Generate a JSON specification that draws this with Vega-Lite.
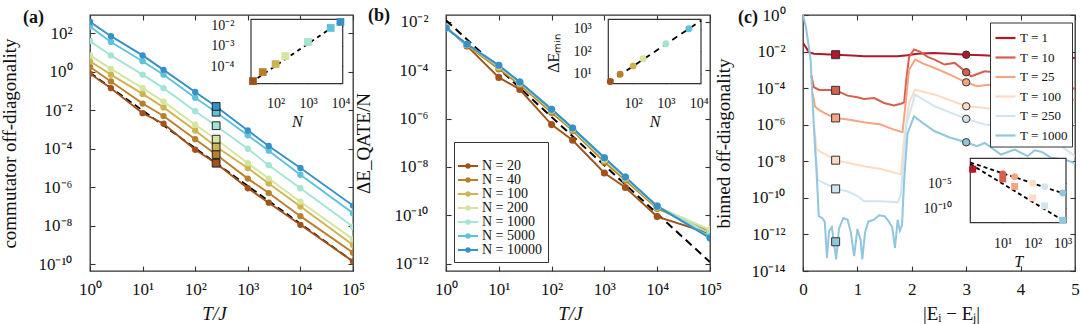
{
"$schema": "https://vega.github.io/schema/vega-lite/v6.json",
"padding": {"left": 0, "top": 5, "right": 0, "bottom": 0},
"bounds": "flush",
"spacing": 93,
"config": {
  "font": "Liberation Serif",
  "view": {"stroke": "#333", "strokeWidth": 1.3},
  "axis": {"grid": false, "domain": false, "tickColor": "#333", "tickWidth": 1.1, "tickSize": -5, "labelFont": "Liberation Serif", "labelFontSize": 17, "labelColor": "#111", "titleFont": "Liberation Serif", "titleFontSize": 19, "titleFontWeight": "normal", "titleColor": "#111"},
  "legend": {"labelFont": "Liberation Serif", "labelColor": "#111", "titleFont": "Liberation Serif"},
  "title": {"font": "Liberation Serif", "color": "#111"}
},
"resolve": {"scale": {"color": "independent"}, "legend": {"color": "independent"}},
"datasets": {
  "a_ref": [{"T": 1, "v": 0.891}, {"T": 100000, "v": 1.41e-10}],
  "a_fit": [{"N": 17.4, "v": 1.52e-5}, {"N": 11750, "v": 0.019}],
  "a_lines": [
    {"N":20,"T":1,"v":0.794},{"N":20,"T":2.5,"v":0.141},{"N":20,"T":10,"v":0.00708},{"N":20,"T":25,"v":0.002},{"N":20,"T":100,"v":8.91e-5},{"N":20,"T":250,"v":1.78e-5},{"N":20,"T":1000,"v":8.91e-7},{"N":20,"T":2500,"v":1.58e-7},{"N":20,"T":10000,"v":1.12e-8},{"N":20,"T":100000,"v":1.41e-10},
    {"N":40,"T":1,"v":1.78},{"N":40,"T":2.5,"v":0.316},{"N":40,"T":10,"v":0.0224},{"N":40,"T":25,"v":0.00501},{"N":40,"T":100,"v":3.16e-4},{"N":40,"T":250,"v":5.01e-5},{"N":40,"T":1000,"v":2.82e-6},{"N":40,"T":2500,"v":5.01e-7},{"N":40,"T":10000,"v":3.16e-8},{"N":40,"T":100000,"v":3.98e-10},
    {"N":100,"T":1,"v":3.55},{"N":100,"T":2.5,"v":0.708},{"N":100,"T":10,"v":0.0708},{"N":100,"T":25,"v":0.0141},{"N":100,"T":100,"v":8.91e-4},{"N":100,"T":250,"v":1.26e-4},{"N":100,"T":1000,"v":1e-5},{"N":100,"T":2500,"v":1.58e-6},{"N":100,"T":10000,"v":1e-7},{"N":100,"T":100000,"v":1e-9},
    {"N":200,"T":1,"v":7.08},{"N":200,"T":2.5,"v":1.41},{"N":200,"T":10,"v":0.141},{"N":200,"T":25,"v":0.0282},{"N":200,"T":100,"v":1.78e-3},{"N":200,"T":250,"v":3.16e-4},{"N":200,"T":1000,"v":1.78e-5},{"N":200,"T":2500,"v":2.82e-6},{"N":200,"T":10000,"v":1.78e-7},{"N":200,"T":100000,"v":2e-9},
    {"N":1000,"T":1,"v":39.8},{"N":1000,"T":2.5,"v":7.08},{"N":1000,"T":10,"v":0.708},{"N":1000,"T":25,"v":0.141},{"N":1000,"T":100,"v":8.91e-3},{"N":1000,"T":250,"v":1.58e-3},{"N":1000,"T":1000,"v":1e-4},{"N":1000,"T":2500,"v":1.41e-5},{"N":1000,"T":10000,"v":8.91e-7},{"N":1000,"T":100000,"v":8.91e-9},
    {"N":5000,"T":1,"v":224},{"N":5000,"T":2.5,"v":35.5},{"N":5000,"T":10,"v":3.55},{"N":5000,"T":25,"v":0.708},{"N":5000,"T":100,"v":0.0447},{"N":5000,"T":250,"v":7.94e-3},{"N":5000,"T":1000,"v":5.01e-4},{"N":5000,"T":2500,"v":7.94e-5},{"N":5000,"T":10000,"v":4.47e-6},{"N":5000,"T":100000,"v":4.47e-8},
    {"N":10000,"T":1,"v":398},{"N":10000,"T":2.5,"v":70.8},{"N":10000,"T":10,"v":7.08},{"N":10000,"T":25,"v":1.26},{"N":10000,"T":100,"v":0.0891},{"N":10000,"T":250,"v":0.0158},{"N":10000,"T":1000,"v":8.91e-4},{"N":10000,"T":2500,"v":1.41e-4},{"N":10000,"T":10000,"v":1e-5},{"N":10000,"T":100000,"v":1.12e-7}
  ],
  "b_ref": [{"T": 1, "v": 0.01148}, {"T": 100000, "v": 1.17e-12}],
  "b_fit": [{"N": 17.4, "v": 3.98}, {"N": 11750, "v": 2290}],
  "b_in": [{"N":20,"v":4.57},{"N":40,"v":9.55},{"N":100,"v":22.4},{"N":200,"v":46.8},{"N":1000,"v":214},{"N":5000,"v":1000}],
  "b_lines": [
    {"N":20,"T":1,"v":6.03e-3},{"N":20,"T":2.5,"v":1e-3},{"N":20,"T":10,"v":5.01e-5},{"N":20,"T":25,"v":1.58e-5},{"N":20,"T":100,"v":5.62e-7},{"N":20,"T":250,"v":1.26e-7},{"N":20,"T":1000,"v":5.62e-9},{"N":20,"T":2500,"v":1.41e-9},{"N":20,"T":10000,"v":8.91e-11},{"N":20,"T":100000,"v":1.78e-11},
    {"N":40,"T":1,"v":6.03e-3},{"N":40,"T":2.5,"v":1.07e-3},{"N":40,"T":10,"v":1.12e-4},{"N":40,"T":25,"v":2.51e-5},{"N":40,"T":100,"v":1.78e-6},{"N":40,"T":250,"v":3.16e-7},{"N":40,"T":1000,"v":1.58e-8},{"N":40,"T":2500,"v":2.82e-9},{"N":40,"T":10000,"v":1.91e-10},{"N":40,"T":100000,"v":2.09e-11},
    {"N":100,"T":1,"v":5.89e-3},{"N":100,"T":2.5,"v":1.12e-3},{"N":100,"T":10,"v":1.32e-4},{"N":100,"T":25,"v":2.82e-5},{"N":100,"T":100,"v":2.09e-6},{"N":100,"T":250,"v":3.55e-7},{"N":100,"T":1000,"v":1.91e-8},{"N":100,"T":2500,"v":3.31e-9},{"N":100,"T":10000,"v":2.14e-10},{"N":100,"T":100000,"v":2.4e-11},
    {"N":200,"T":1,"v":5.75e-3},{"N":200,"T":2.5,"v":1.15e-3},{"N":200,"T":10,"v":1.45e-4},{"N":200,"T":25,"v":3.02e-5},{"N":200,"T":100,"v":2.24e-6},{"N":200,"T":250,"v":3.8e-7},{"N":200,"T":1000,"v":2.09e-8},{"N":200,"T":2500,"v":3.47e-9},{"N":200,"T":10000,"v":2.29e-10},{"N":200,"T":100000,"v":2.51e-11},
    {"N":1000,"T":1,"v":5.62e-3},{"N":1000,"T":2.5,"v":1.17e-3},{"N":1000,"T":10,"v":1.51e-4},{"N":1000,"T":25,"v":3.16e-5},{"N":1000,"T":100,"v":2.34e-6},{"N":1000,"T":250,"v":3.98e-7},{"N":1000,"T":1000,"v":2.29e-8},{"N":1000,"T":2500,"v":3.63e-9},{"N":1000,"T":10000,"v":2.34e-10},{"N":1000,"T":100000,"v":1.78e-11},
    {"N":5000,"T":1,"v":5.5e-3},{"N":5000,"T":2.5,"v":1.17e-3},{"N":5000,"T":10,"v":1.58e-4},{"N":5000,"T":25,"v":3.24e-5},{"N":5000,"T":100,"v":2.4e-6},{"N":5000,"T":250,"v":4.07e-7},{"N":5000,"T":1000,"v":2.4e-8},{"N":5000,"T":2500,"v":3.8e-9},{"N":5000,"T":10000,"v":2.4e-10},{"N":5000,"T":100000,"v":1.26e-11},
    {"N":10000,"T":1,"v":5.5e-3},{"N":10000,"T":2.5,"v":1.17e-3},{"N":10000,"T":10,"v":1.58e-4},{"N":10000,"T":25,"v":3.24e-5},{"N":10000,"T":100,"v":2.4e-6},{"N":10000,"T":250,"v":4.07e-7},{"N":10000,"T":1000,"v":2.4e-8},{"N":10000,"T":2500,"v":3.8e-9},{"N":10000,"T":10000,"v":2.4e-10},{"N":10000,"T":100000,"v":1.15e-11}
  ],
  "c_curves": [
    {"T":1,"E":0,"v":2.95e-2},{"T":1,"E":0.05,"v":1.78e-2},{"T":1,"E":0.11,"v":9.12e-3},{"T":1,"E":0.2,"v":7.59e-3},{"T":1,"E":0.4,"v":7.08e-3},{"T":1,"E":0.6,"v":6.76e-3},{"T":1,"E":0.9,"v":6.03e-3},{"T":1,"E":1.12,"v":5.5e-3},{"T":1,"E":1.4,"v":5.5e-3},{"T":1,"E":1.74,"v":5.5e-3},{"T":1,"E":1.92,"v":6.31e-3},{"T":1,"E":2.1,"v":7.59e-3},{"T":1,"E":2.4,"v":8.32e-3},{"T":1,"E":2.7,"v":7.59e-3},{"T":1,"E":3.0,"v":6.76e-3},{"T":1,"E":3.3,"v":6.31e-3},{"T":1,"E":3.64,"v":5.5e-3},{"T":1,"E":4.0,"v":5.25e-3},{"T":1,"E":4.26,"v":5.01e-3},{"T":1,"E":4.6,"v":4.79e-3},{"T":1,"E":5.0,"v":4.47e-3},
    {"T":10,"E":0.15,"v":5.01e-4},{"T":10,"E":0.2,"v":1.12e-4},{"T":10,"E":0.3,"v":7.94e-5},{"T":10,"E":0.45,"v":7.94e-5},{"T":10,"E":0.6,"v":7.59e-5},{"T":10,"E":0.82,"v":3.89e-5},{"T":10,"E":1.0,"v":3.16e-5},{"T":10,"E":1.12,"v":2.57e-5},{"T":10,"E":1.31,"v":2.88e-5},{"T":10,"E":1.49,"v":1.55e-5},{"T":10,"E":1.67,"v":1.12e-5},{"T":10,"E":1.8,"v":1.41e-5},{"T":10,"E":1.86,"v":1.7e-5},{"T":10,"E":1.9,"v":3.16e-4},{"T":10,"E":1.95,"v":5.01e-3},{"T":10,"E":2.04,"v":1.29e-2},{"T":10,"E":2.15,"v":1e-2},{"T":10,"E":2.3,"v":5.01e-3},{"T":10,"E":2.42,"v":3.63e-3},{"T":10,"E":2.6,"v":1.95e-3},{"T":10,"E":2.79,"v":2.4e-3},{"T":10,"E":3.0,"v":7.41e-4},{"T":10,"E":3.09,"v":4.47e-4},{"T":10,"E":3.34,"v":8.32e-4},{"T":10,"E":3.64,"v":6.76e-4},{"T":10,"E":3.95,"v":4.47e-4},{"T":10,"E":4.26,"v":5.5e-4},{"T":10,"E":4.56,"v":1.91e-4},{"T":10,"E":4.8,"v":1.26e-4},{"T":10,"E":5.0,"v":9.12e-5},
    {"T":25,"E":0.18,"v":5.01e-5},{"T":25,"E":0.22,"v":1e-5},{"T":25,"E":0.3,"v":6.31e-6},{"T":25,"E":0.45,"v":3.55e-6},{"T":25,"E":0.6,"v":2.34e-6},{"T":25,"E":0.82,"v":1.91e-6},{"T":25,"E":1.12,"v":1.35e-6},{"T":25,"E":1.43,"v":1.02e-6},{"T":25,"E":1.67,"v":5.37e-7},{"T":25,"E":1.83,"v":3.89e-7},{"T":25,"E":1.88,"v":1e-5},{"T":25,"E":1.95,"v":1e-3},{"T":25,"E":2.06,"v":3.63e-3},{"T":25,"E":2.2,"v":2.24e-3},{"T":25,"E":2.42,"v":1.26e-3},{"T":25,"E":2.7,"v":5.5e-4},{"T":25,"E":3.0,"v":2.09e-4},{"T":25,"E":3.2,"v":1.26e-4},{"T":25,"E":3.4,"v":1.55e-4},{"T":25,"E":3.75,"v":8.32e-5},{"T":25,"E":4.13,"v":1.02e-4},{"T":25,"E":4.5,"v":3.98e-5},{"T":25,"E":5.0,"v":2.24e-5},
    {"T":100,"E":0.2,"v":1e-6},{"T":100,"E":0.25,"v":5.01e-8},{"T":100,"E":0.3,"v":3.55e-8},{"T":100,"E":0.6,"v":1.15e-8},{"T":100,"E":1.12,"v":5.37e-9},{"T":100,"E":1.43,"v":3.8e-9},{"T":100,"E":1.8,"v":1.91e-9},{"T":100,"E":1.85,"v":1e-7},{"T":100,"E":1.95,"v":1.58e-5},{"T":100,"E":2.06,"v":8.32e-5},{"T":100,"E":2.2,"v":6.31e-5},{"T":100,"E":2.42,"v":4.47e-5},{"T":100,"E":3.0,"v":1.02e-5},{"T":100,"E":3.64,"v":6.76e-6},{"T":100,"E":4.26,"v":2.88e-6},{"T":100,"E":5.0,"v":1.02e-6},
    {"T":250,"E":0.22,"v":1e-7},{"T":250,"E":0.27,"v":1e-9},{"T":250,"E":0.35,"v":7.24e-10},{"T":250,"E":0.6,"v":3.09e-10},{"T":250,"E":0.82,"v":2.29e-10},{"T":250,"E":1.0,"v":1.26e-10},{"T":250,"E":1.12,"v":6.61e-11},{"T":250,"E":1.43,"v":6.61e-11},{"T":250,"E":1.74,"v":5.75e-11},{"T":250,"E":1.8,"v":1.58e-10},{"T":250,"E":1.9,"v":1e-6},{"T":250,"E":2.06,"v":4.47e-5},{"T":250,"E":2.2,"v":2.51e-5},{"T":250,"E":2.42,"v":1.02e-5},{"T":250,"E":3.0,"v":2.09e-6},{"T":250,"E":3.34,"v":1.02e-6},{"T":250,"E":3.95,"v":6.76e-7},{"T":250,"E":4.44,"v":2.34e-7},{"T":250,"E":4.75,"v":6.61e-8},{"T":250,"E":5.0,"v":1.91e-8},
    {"T":1000,"E":0,"v":1},{"T":1000,"E":0.05,"v":0.251},{"T":1000,"E":0.08,"v":0.0631},{"T":1000,"E":0.14,"v":3.63e-3},{"T":1000,"E":0.2,"v":8.32e-7},{"T":1000,"E":0.26,"v":6.61e-10},{"T":1000,"E":0.29,"v":1e-11},{"T":1000,"E":0.35,"v":7.94e-12},{"T":1000,"E":0.4,"v":5.01e-12},{"T":1000,"E":0.44,"v":5.25e-14},{"T":1000,"E":0.48,"v":1.58e-12},{"T":1000,"E":0.53,"v":2.51e-12},{"T":1000,"E":0.57,"v":3.16e-13},{"T":1000,"E":0.61,"v":4.27e-14},{"T":1000,"E":0.66,"v":2e-12},{"T":1000,"E":0.74,"v":7.94e-12},{"T":1000,"E":0.82,"v":6.31e-12},{"T":1000,"E":0.88,"v":1.26e-12},{"T":1000,"E":0.94,"v":6.46e-14},{"T":1000,"E":1.0,"v":2e-12},{"T":1000,"E":1.06,"v":5.01e-13},{"T":1000,"E":1.09,"v":4.27e-14},{"T":1000,"E":1.14,"v":1.26e-12},{"T":1000,"E":1.2,"v":5.01e-12},{"T":1000,"E":1.3,"v":6.31e-12},{"T":1000,"E":1.4,"v":1.12e-11},{"T":1000,"E":1.5,"v":1e-11},{"T":1000,"E":1.58,"v":5.01e-12},{"T":1000,"E":1.64,"v":2.51e-12},{"T":1000,"E":1.69,"v":1.86e-13},{"T":1000,"E":1.74,"v":6.31e-12},{"T":1000,"E":1.78,"v":1.58e-12},{"T":1000,"E":1.82,"v":3.16e-12},{"T":1000,"E":1.86,"v":1e-9},{"T":1000,"E":1.92,"v":3.16e-7},{"T":1000,"E":2.04,"v":2.88e-6},{"T":1000,"E":2.2,"v":1.26e-6},{"T":1000,"E":2.42,"v":4.37e-7},{"T":1000,"E":2.7,"v":2e-7},{"T":1000,"E":3.0,"v":1.1e-7},{"T":1000,"E":3.2,"v":6.61e-8},{"T":1000,"E":3.34,"v":1e-7},{"T":1000,"E":3.64,"v":2.34e-8},{"T":1000,"E":3.89,"v":4.37e-8},{"T":1000,"E":4.13,"v":1.91e-8},{"T":1000,"E":4.26,"v":3.98e-8},{"T":1000,"E":4.4,"v":3.16e-8},{"T":1000,"E":4.56,"v":1.55e-8},{"T":1000,"E":4.8,"v":1.26e-8},{"T":1000,"E":5.0,"v":8.13e-9}
  ],
  "c_sq": [{"T":1,"E":0.6,"v":6.76e-3},{"T":10,"E":0.6,"v":7.59e-5},{"T":25,"E":0.6,"v":2.34e-6},{"T":100,"E":0.6,"v":1.15e-8},{"T":250,"E":0.6,"v":3.09e-10},{"T":1000,"E":0.6,"v":3.98e-13}],
  "c_ci": [{"T":1,"E":3,"v":6.76e-3},{"T":10,"E":3,"v":7.41e-4},{"T":25,"E":3,"v":2.09e-4},{"T":100,"E":3,"v":1.02e-5},{"T":250,"E":3,"v":2.09e-6},{"T":1000,"E":3,"v":1.1e-7}],
  "c_fit": [{"g":"upper","T":0.83,"v":0.145},{"g":"upper","T":1290,"v":6.03e-8},{"g":"lower","T":0.83,"v":0.0724},{"g":"lower","T":1290,"v":1.51e-13}]
},
"hconcat": [
{
  "width": 263, "height": 256,
  "title": {"text": "(a)", "anchor": "start", "frame": "group", "orient": "top", "offset": 0, "baseline": "top", "dx": -67, "dy": 12.5, "fontSize": 18, "fontWeight": "bold"},
  "resolve": {"scale": {"x": "independent", "y": "independent"}, "axis": {"x": "independent", "y": "independent"}},
  "layer": [
    {"layer": [
      {"data": {"name": "a_ref"}, "mark": {"type": "line", "color": "#000", "strokeWidth": 1.8, "strokeDash": [7, 4], "clip": true},
       "encoding": {
        "x": {"field": "T", "type": "quantitative", "scale": {"type": "log", "domain": [1, 100000], "nice": false}, "axis": {"orient": "bottom", "values": [1, 10, 100, 1000, 10000, 100000], "labelExpr": "'10' + replace(replace(replace(replace(replace(replace(replace(replace(replace(replace(replace('' + round(log(datum.value) / LN10), regexp('-', 'g'), '⁻'), regexp('0', 'g'), '⁰'), regexp('1', 'g'), '¹'), regexp('2', 'g'), '²'), regexp('3', 'g'), '³'), regexp('4', 'g'), '⁴'), regexp('5', 'g'), '⁵'), regexp('6', 'g'), '⁶'), regexp('7', 'g'), '⁷'), regexp('8', 'g'), '⁸'), regexp('9', 'g'), '⁹')", "labelPadding": 15, "labelFlush": false, "labelOverlap": false, "title": "T/J", "titleFontStyle": "italic", "titleX": 124, "titleY": 33, "titleBaseline": "top"}},
        "y": {"field": "v", "type": "quantitative", "scale": {"type": "log", "domain": [4.47e-11, 891], "nice": false}, "axis": {"orient": "left", "values": [1e-10, 1e-8, 1e-6, 1e-4, 0.01, 1, 100], "labelExpr": "'10' + replace(replace(replace(replace(replace(replace(replace(replace(replace(replace(replace('' + round(log(datum.value) / LN10), regexp('-', 'g'), '⁻'), regexp('0', 'g'), '⁰'), regexp('1', 'g'), '¹'), regexp('2', 'g'), '²'), regexp('3', 'g'), '³'), regexp('4', 'g'), '⁴'), regexp('5', 'g'), '⁵'), regexp('6', 'g'), '⁶'), regexp('7', 'g'), '⁷'), regexp('8', 'g'), '⁸'), regexp('9', 'g'), '⁹')", "labelPadding": 23, "labelFlush": false, "labelOverlap": false, "title": "commutator off-diagonality", "titlePadding": 18}}
       }},
      {"data": {"name": "a_lines"}, "mark": {"type": "line", "strokeWidth": 1.9, "clip": true},
       "encoding": {
        "x": {"field": "T", "type": "quantitative", "scale": {"type": "log", "domain": [1, 100000], "nice": false}},
        "y": {"field": "v", "type": "quantitative", "scale": {"type": "log", "domain": [4.47e-11, 891], "nice": false}},
        "color": {"field": "N", "type": "nominal", "scale": {"domain": [20, 40, 100, 200, 1000, 5000, 10000], "range": ["#a0521a", "#b8802e", "#cfb350", "#d5e49e", "#a4e4d2", "#5ec2dc", "#3790c6"]}, "legend": null}
       }},
      {"data": {"name": "a_lines"}, "transform": [{"filter": "datum.T != 250"}], "mark": {"type": "circle", "size": 40, "opacity": 1, "clip": true},
       "encoding": {
        "x": {"field": "T", "type": "quantitative", "scale": {"type": "log", "domain": [1, 100000], "nice": false}},
        "y": {"field": "v", "type": "quantitative", "scale": {"type": "log", "domain": [4.47e-11, 891], "nice": false}},
        "color": {"field": "N", "type": "nominal", "scale": {"domain": [20, 40, 100, 200, 1000, 5000, 10000], "range": ["#a0521a", "#b8802e", "#cfb350", "#d5e49e", "#a4e4d2", "#5ec2dc", "#3790c6"]}, "legend": null}
       }},
      {"data": {"name": "a_lines"}, "transform": [{"filter": "datum.T == 250"}], "mark": {"type": "square", "size": 60, "opacity": 1, "stroke": "#222", "strokeWidth": 1, "clip": true},
       "encoding": {
        "x": {"field": "T", "type": "quantitative", "scale": {"type": "log", "domain": [1, 100000], "nice": false}},
        "y": {"field": "v", "type": "quantitative", "scale": {"type": "log", "domain": [4.47e-11, 891], "nice": false}},
        "color": {"field": "N", "type": "nominal", "scale": {"domain": [20, 40, 100, 200, 1000, 5000, 10000], "range": ["#a0521a", "#b8802e", "#cfb350", "#d5e49e", "#a4e4d2", "#5ec2dc", "#3790c6"]}, "legend": null}
       }}
    ]},
    {"data": {"name": "a_ref"}, "mark": {"type": "point", "opacity": 0},
     "encoding": {
      "x": {"field": "T", "type": "quantitative", "scale": {"type": "log", "domain": [1, 100000], "nice": false}, "axis": {"orient": "top", "values": [1, 10, 100, 1000, 10000, 100000], "labels": false, "title": null}},
      "y": {"field": "v", "type": "quantitative", "scale": {"type": "log", "domain": [4.47e-11, 891], "nice": false}, "axis": {"orient": "right", "values": [1e-10, 1e-8, 1e-6, 1e-4, 0.01, 1, 100], "labels": false, "title": null}}
     }},
    {"layer": [
      {"data": {"values": [{}]}, "mark": {"type": "rect", "fill": "white", "stroke": "#333", "strokeWidth": 1.2},
       "encoding": {
        "x": {"datum": 17.4, "type": "quantitative", "scale": {"type": "log", "domain": [17.4, 11750], "range": [161, 252.7], "nice": false}, "axis": {"orient": "bottom", "offset": -187.3, "values": [100, 1000, 10000], "labelExpr": "'10' + replace(replace(replace(replace(replace(replace(replace(replace(replace(replace(replace('' + round(log(datum.value) / LN10), regexp('-', 'g'), '⁻'), regexp('0', 'g'), '⁰'), regexp('1', 'g'), '¹'), regexp('2', 'g'), '²'), regexp('3', 'g'), '³'), regexp('4', 'g'), '⁴'), regexp('5', 'g'), '⁵'), regexp('6', 'g'), '⁶'), regexp('7', 'g'), '⁷'), regexp('8', 'g'), '⁸'), regexp('9', 'g'), '⁹')", "labelFontSize": 14, "labelPadding": 17, "labelFlush": false, "labelOverlap": false, "tickSize": -4, "title": "N", "titleFontStyle": "italic", "titleFontSize": 16, "titleY": 30, "titleBaseline": "top"}},
        "x2": {"datum": 11750},
        "y": {"datum": 1.32e-5, "type": "quantitative", "scale": {"type": "log", "domain": [1.32e-5, 0.0214], "range": [68.7, 4.3], "nice": false}, "axis": {"orient": "left", "offset": -161, "values": [0.0001, 0.001, 0.01], "labelExpr": "'10' + replace(replace(replace(replace(replace(replace(replace(replace(replace(replace(replace('' + round(log(datum.value) / LN10), regexp('-', 'g'), '⁻'), regexp('0', 'g'), '⁰'), regexp('1', 'g'), '¹'), regexp('2', 'g'), '²'), regexp('3', 'g'), '³'), regexp('4', 'g'), '⁴'), regexp('5', 'g'), '⁵'), regexp('6', 'g'), '⁶'), regexp('7', 'g'), '⁷'), regexp('8', 'g'), '⁸'), regexp('9', 'g'), '⁹')", "labelFontSize": 14, "labelPadding": 21, "labelFlush": false, "labelOverlap": false, "tickSize": -4, "title": null}},
        "y2": {"datum": 0.0214}
       }},
      {"data": {"name": "a_fit"}, "mark": {"type": "line", "color": "#000", "strokeWidth": 1.8, "strokeDash": [4, 4]},
       "encoding": {
        "x": {"field": "N", "type": "quantitative", "scale": {"type": "log", "domain": [17.4, 11750], "range": [161, 252.7], "nice": false}},
        "y": {"field": "v", "type": "quantitative", "scale": {"type": "log", "domain": [1.32e-5, 0.0214], "range": [68.7, 4.3], "nice": false}}
       }},
      {"data": {"name": "a_lines"}, "transform": [{"filter": "datum.T == 250"}], "mark": {"type": "square", "size": 60, "opacity": 1},
       "encoding": {
        "x": {"field": "N", "type": "quantitative", "scale": {"type": "log", "domain": [17.4, 11750], "range": [161, 252.7], "nice": false}},
        "y": {"field": "v", "type": "quantitative", "scale": {"type": "log", "domain": [1.32e-5, 0.0214], "range": [68.7, 4.3], "nice": false}},
        "color": {"field": "N", "type": "nominal", "scale": {"domain": [20, 40, 100, 200, 1000, 5000, 10000], "range": ["#a0521a", "#b8802e", "#cfb350", "#d5e49e", "#a4e4d2", "#5ec2dc", "#3790c6"]}, "legend": null}
       }}
    ]},
    {"data": {"name": "a_fit"}, "mark": {"type": "point", "opacity": 0},
     "encoding": {
      "x": {"field": "N", "type": "quantitative", "scale": {"type": "log", "domain": [17.4, 11750], "range": [161, 252.7], "nice": false}, "axis": {"orient": "top", "offset": -4.3, "values": [100, 1000, 10000], "labels": false, "title": null, "tickSize": -4}},
      "y": {"field": "v", "type": "quantitative", "scale": {"type": "log", "domain": [1.32e-5, 0.0214], "range": [68.7, 4.3], "nice": false}, "axis": {"orient": "right", "offset": -10.3, "values": [0.0001, 0.001, 0.01], "labels": false, "title": null, "tickSize": -4}}
     }}
  ]
},
{
  "width": 264, "height": 256,
  "title": {"text": "(b)", "anchor": "start", "frame": "group", "orient": "top", "offset": 0, "baseline": "top", "dx": -78, "dy": 12.5, "fontSize": 18, "fontWeight": "bold"},
  "resolve": {"scale": {"x": "independent", "y": "independent"}, "axis": {"x": "independent", "y": "independent"}},
  "layer": [
    {"layer": [
      {"data": {"name": "b_ref"}, "mark": {"type": "line", "color": "#000", "strokeWidth": 2, "strokeDash": [8, 5], "clip": true},
       "encoding": {
        "x": {"field": "T", "type": "quantitative", "scale": {"type": "log", "domain": [1, 100000], "nice": false}, "axis": {"orient": "bottom", "values": [1, 10, 100, 1000, 10000, 100000], "labelExpr": "'10' + replace(replace(replace(replace(replace(replace(replace(replace(replace(replace(replace('' + round(log(datum.value) / LN10), regexp('-', 'g'), '⁻'), regexp('0', 'g'), '⁰'), regexp('1', 'g'), '¹'), regexp('2', 'g'), '²'), regexp('3', 'g'), '³'), regexp('4', 'g'), '⁴'), regexp('5', 'g'), '⁵'), regexp('6', 'g'), '⁶'), regexp('7', 'g'), '⁷'), regexp('8', 'g'), '⁸'), regexp('9', 'g'), '⁹')", "labelPadding": 15, "labelFlush": false, "labelOverlap": false, "title": "T/J", "titleFontStyle": "italic", "titleX": 124, "titleY": 33, "titleBaseline": "top"}},
        "y": {"field": "v", "type": "quantitative", "scale": {"type": "log", "domain": [5.01e-13, 0.019], "nice": false}, "axis": {"orient": "left", "values": [1e-12, 1e-10, 1e-8, 1e-6, 1e-4, 0.01], "labelExpr": "'10' + replace(replace(replace(replace(replace(replace(replace(replace(replace(replace(replace('' + round(log(datum.value) / LN10), regexp('-', 'g'), '⁻'), regexp('0', 'g'), '⁰'), regexp('1', 'g'), '¹'), regexp('2', 'g'), '²'), regexp('3', 'g'), '³'), regexp('4', 'g'), '⁴'), regexp('5', 'g'), '⁵'), regexp('6', 'g'), '⁶'), regexp('7', 'g'), '⁷'), regexp('8', 'g'), '⁸'), regexp('9', 'g'), '⁹')", "labelPadding": 23, "labelFlush": false, "labelOverlap": false, "title": "ΔE_QATE/N", "titlePadding": 20}}
       }},
      {"data": {"name": "b_lines"}, "mark": {"type": "circle", "size": 0, "opacity": 1, "clip": true},
       "encoding": {
        "x": {"field": "T", "type": "quantitative", "scale": {"type": "log", "domain": [1, 100000], "nice": false}},
        "y": {"field": "v", "type": "quantitative", "scale": {"type": "log", "domain": [5.01e-13, 0.019], "nice": false}},
        "color": {"field": "N", "type": "nominal", "scale": {"domain": [20, 40, 100, 200, 1000, 5000, 10000], "range": ["#a0521a", "#b8802e", "#cfb350", "#d5e49e", "#a4e4d2", "#5ec2dc", "#3790c6"]},
          "legend": {"orient": "none", "legendX": 8, "legendY": 127, "title": " ", "titleFontSize": 10, "titlePadding": 2, "padding": 5, "rowPadding": 0, "symbolType": "M-1.6,-0.15H1.6V0.15H-1.6Z M0.45,0A0.45,0.45,0,1,1,-0.45,0A0.45,0.45,0,1,1,0.45,0Z", "symbolSize": 160, "symbolStrokeWidth": 0, "symbolOffset": 2, "labelOffset": 7, "labelFontSize": 14, "labelExpr": "'N = ' + datum.label", "strokeColor": "#333", "fillColor": "white", "cornerRadius": 0}}
       }},
      {"data": {"name": "b_lines"}, "mark": {"type": "line", "strokeWidth": 1.9, "clip": true},
       "encoding": {
        "x": {"field": "T", "type": "quantitative", "scale": {"type": "log", "domain": [1, 100000], "nice": false}},
        "y": {"field": "v", "type": "quantitative", "scale": {"type": "log", "domain": [5.01e-13, 0.019], "nice": false}},
        "color": {"field": "N", "type": "nominal", "scale": {"domain": [20, 40, 100, 200, 1000, 5000, 10000], "range": ["#a0521a", "#b8802e", "#cfb350", "#d5e49e", "#a4e4d2", "#5ec2dc", "#3790c6"]}, "legend": null}
       }},
      {"data": {"name": "b_lines"}, "mark": {"type": "circle", "size": 50, "opacity": 1, "clip": true},
       "encoding": {
        "x": {"field": "T", "type": "quantitative", "scale": {"type": "log", "domain": [1, 100000], "nice": false}},
        "y": {"field": "v", "type": "quantitative", "scale": {"type": "log", "domain": [5.01e-13, 0.019], "nice": false}},
        "color": {"field": "N", "type": "nominal", "scale": {"domain": [20, 40, 100, 200, 1000, 5000, 10000], "range": ["#a0521a", "#b8802e", "#cfb350", "#d5e49e", "#a4e4d2", "#5ec2dc", "#3790c6"]}, "legend": null}
       }}
    ]},
    {"data": {"name": "b_ref"}, "mark": {"type": "point", "opacity": 0},
     "encoding": {
      "x": {"field": "T", "type": "quantitative", "scale": {"type": "log", "domain": [1, 100000], "nice": false}, "axis": {"orient": "top", "values": [1, 10, 100, 1000, 10000, 100000], "labels": false, "title": null}},
      "y": {"field": "v", "type": "quantitative", "scale": {"type": "log", "domain": [5.01e-13, 0.019], "nice": false}, "axis": {"orient": "right", "values": [1e-12, 1e-10, 1e-8, 1e-6, 1e-4, 0.01], "labels": false, "title": null}}
     }},
    {"layer": [
      {"data": {"values": [{}]}, "mark": {"type": "rect", "fill": "white", "stroke": "#333", "strokeWidth": 1.2},
       "encoding": {
        "x": {"datum": 17.4, "type": "quantitative", "scale": {"type": "log", "domain": [17.4, 11750], "range": [162.3, 255], "nice": false}, "axis": {"orient": "bottom", "offset": -187.3, "values": [100, 1000, 10000], "labelExpr": "'10' + replace(replace(replace(replace(replace(replace(replace(replace(replace(replace(replace('' + round(log(datum.value) / LN10), regexp('-', 'g'), '⁻'), regexp('0', 'g'), '⁰'), regexp('1', 'g'), '¹'), regexp('2', 'g'), '²'), regexp('3', 'g'), '³'), regexp('4', 'g'), '⁴'), regexp('5', 'g'), '⁵'), regexp('6', 'g'), '⁶'), regexp('7', 'g'), '⁷'), regexp('8', 'g'), '⁸'), regexp('9', 'g'), '⁹')", "labelFontSize": 14, "labelPadding": 17, "labelFlush": false, "labelOverlap": false, "tickSize": -4, "title": "N", "titleFontStyle": "italic", "titleFontSize": 16, "titleY": 30, "titleBaseline": "top"}},
        "x2": {"datum": 11750},
        "y": {"datum": 3.63, "type": "quantitative", "scale": {"type": "log", "domain": [3.63, 2630], "range": [68.7, 4.3], "nice": false}, "axis": {"orient": "left", "offset": -162.3, "values": [10, 100, 1000], "labelExpr": "'10' + replace(replace(replace(replace(replace(replace(replace(replace(replace(replace(replace('' + round(log(datum.value) / LN10), regexp('-', 'g'), '⁻'), regexp('0', 'g'), '⁰'), regexp('1', 'g'), '¹'), regexp('2', 'g'), '²'), regexp('3', 'g'), '³'), regexp('4', 'g'), '⁴'), regexp('5', 'g'), '⁵'), regexp('6', 'g'), '⁶'), regexp('7', 'g'), '⁷'), regexp('8', 'g'), '⁸'), regexp('9', 'g'), '⁹')", "labelFontSize": 14, "labelPadding": 21, "labelFlush": false, "labelOverlap": false, "tickSize": -4, "title": "ΔEₘᵢₙ", "titleFontSize": 16, "titleX": -47, "titleY": 38, "titleBaseline": "bottom", "titleAngle": 270, "titleAlign": "center"}},
        "y2": {"datum": 2630}
       }},
      {"data": {"name": "b_fit"}, "mark": {"type": "line", "color": "#000", "strokeWidth": 1.8, "strokeDash": [6, 5]},
       "encoding": {
        "x": {"field": "N", "type": "quantitative", "scale": {"type": "log", "domain": [17.4, 11750], "range": [162.3, 255], "nice": false}},
        "y": {"field": "v", "type": "quantitative", "scale": {"type": "log", "domain": [3.63, 2630], "range": [68.7, 4.3], "nice": false}}
       }},
      {"data": {"name": "b_in"}, "mark": {"type": "circle", "size": 48, "opacity": 1},
       "encoding": {
        "x": {"field": "N", "type": "quantitative", "scale": {"type": "log", "domain": [17.4, 11750], "range": [162.3, 255], "nice": false}},
        "y": {"field": "v", "type": "quantitative", "scale": {"type": "log", "domain": [3.63, 2630], "range": [68.7, 4.3], "nice": false}},
        "color": {"field": "N", "type": "nominal", "scale": {"domain": [20, 40, 100, 200, 1000, 5000, 10000], "range": ["#a0521a", "#b8802e", "#cfb350", "#d5e49e", "#a4e4d2", "#5ec2dc", "#3790c6"]}, "legend": null}
       }}
    ]},
    {"data": {"name": "b_fit"}, "mark": {"type": "point", "opacity": 0},
     "encoding": {
      "x": {"field": "N", "type": "quantitative", "scale": {"type": "log", "domain": [17.4, 11750], "range": [162.3, 255], "nice": false}, "axis": {"orient": "top", "offset": -4.3, "values": [100, 1000, 10000], "labels": false, "title": null, "tickSize": -4}},
      "y": {"field": "v", "type": "quantitative", "scale": {"type": "log", "domain": [3.63, 2630], "range": [68.7, 4.3], "nice": false}, "axis": {"orient": "right", "offset": -9, "values": [10, 100, 1000], "labels": false, "title": null, "tickSize": -4}}
     }}
  ]
},
{
  "width": 272, "height": 256,
  "title": {"text": "(c)", "anchor": "start", "frame": "group", "orient": "top", "offset": 0, "baseline": "top", "dx": -65, "dy": 20.5, "fontSize": 18, "fontWeight": "bold"},
  "resolve": {"scale": {"x": "independent", "y": "independent"}, "axis": {"x": "independent", "y": "independent"}},
  "layer": [
    {"layer": [
      {"data": {"name": "c_curves"}, "mark": {"type": "line", "strokeWidth": 2, "clip": true},
       "encoding": {
        "x": {"field": "E", "type": "quantitative", "scale": {"type": "linear", "domain": [0, 5], "nice": false, "zero": false}, "axis": {"orient": "bottom", "values": [0, 1, 2, 3, 4, 5], "format": "d", "labelPadding": 15, "labelFlush": false, "labelOverlap": false, "title": "|Eᵢ − Eⱼ|", "titleX": 148, "titleY": 33, "titleBaseline": "top"}},
        "y": {"field": "v", "type": "quantitative", "scale": {"type": "log", "domain": [1e-14, 1], "nice": false}, "axis": {"orient": "left", "values": [1e-14, 1e-12, 1e-10, 1e-8, 1e-6, 1e-4, 0.01, 1], "labelExpr": "'10' + replace(replace(replace(replace(replace(replace(replace(replace(replace(replace(replace('' + round(log(datum.value) / LN10), regexp('-', 'g'), '⁻'), regexp('0', 'g'), '⁰'), regexp('1', 'g'), '¹'), regexp('2', 'g'), '²'), regexp('3', 'g'), '³'), regexp('4', 'g'), '⁴'), regexp('5', 'g'), '⁵'), regexp('6', 'g'), '⁶'), regexp('7', 'g'), '⁷'), regexp('8', 'g'), '⁸'), regexp('9', 'g'), '⁹')", "labelPadding": 23, "labelFlush": false, "labelOverlap": false, "title": "binned off-diagonality", "titlePadding": 17}},
        "color": {"field": "T", "type": "nominal", "scale": {"domain": [1, 10, 25, 100, 250, 1000], "range": ["#b2182b", "#d6604d", "#f4a582", "#fddbc7", "#d1e5f0", "#92c5de"]},
          "legend": {"orient": "none", "legendX": 187, "legendY": 7.5, "title": null, "padding": 4, "rowPadding": 0.5, "symbolType": "stroke", "symbolSize": 400, "symbolStrokeWidth": 2.2, "labelOffset": 3, "labelFontSize": 13, "labelExpr": "'T = ' + datum.label", "strokeColor": "#333", "fillColor": "white", "cornerRadius": 0}}
       }},
      {"data": {"name": "c_sq"}, "mark": {"type": "square", "size": 64, "opacity": 1, "stroke": "#333", "strokeWidth": 1},
       "encoding": {
        "x": {"field": "E", "type": "quantitative", "scale": {"type": "linear", "domain": [0, 5], "nice": false, "zero": false}},
        "y": {"field": "v", "type": "quantitative", "scale": {"type": "log", "domain": [1e-14, 1], "nice": false}},
        "color": {"field": "T", "type": "nominal", "scale": {"domain": [1, 10, 25, 100, 250, 1000], "range": ["#b2182b", "#d6604d", "#f4a582", "#fddbc7", "#d1e5f0", "#92c5de"]}, "legend": null}
       }},
      {"data": {"name": "c_ci"}, "mark": {"type": "circle", "size": 55, "opacity": 1, "stroke": "#333", "strokeWidth": 1},
       "encoding": {
        "x": {"field": "E", "type": "quantitative", "scale": {"type": "linear", "domain": [0, 5], "nice": false, "zero": false}},
        "y": {"field": "v", "type": "quantitative", "scale": {"type": "log", "domain": [1e-14, 1], "nice": false}},
        "color": {"field": "T", "type": "nominal", "scale": {"domain": [1, 10, 25, 100, 250, 1000], "range": ["#b2182b", "#d6604d", "#f4a582", "#fddbc7", "#d1e5f0", "#92c5de"]}, "legend": null}
       }}
    ]},
    {"data": {"name": "c_ci"}, "mark": {"type": "point", "opacity": 0},
     "encoding": {
      "x": {"field": "E", "type": "quantitative", "scale": {"type": "linear", "domain": [0, 5], "nice": false, "zero": false}, "axis": {"orient": "top", "values": [0, 1, 2, 3, 4, 5], "labels": false, "title": null}},
      "y": {"field": "v", "type": "quantitative", "scale": {"type": "log", "domain": [1e-14, 1], "nice": false}, "axis": {"orient": "right", "values": [1e-14, 1e-12, 1e-10, 1e-8, 1e-6, 1e-4, 0.01, 1], "labels": false, "title": null}}
     }},
    {"layer": [
      {"data": {"values": [{}]}, "mark": {"type": "rect", "fill": "white", "stroke": "#333", "strokeWidth": 1.2},
       "encoding": {
        "x": {"datum": 0.83, "type": "quantitative", "scale": {"type": "log", "domain": [0.83, 1290], "range": [167.3, 263], "nice": false}, "axis": {"orient": "bottom", "offset": -48.3, "values": [10, 100, 1000], "labelExpr": "'10' + replace(replace(replace(replace(replace(replace(replace(replace(replace(replace(replace('' + round(log(datum.value) / LN10), regexp('-', 'g'), '⁻'), regexp('0', 'g'), '⁰'), regexp('1', 'g'), '¹'), regexp('2', 'g'), '²'), regexp('3', 'g'), '³'), regexp('4', 'g'), '⁴'), regexp('5', 'g'), '⁵'), regexp('6', 'g'), '⁶'), regexp('7', 'g'), '⁷'), regexp('8', 'g'), '⁸'), regexp('9', 'g'), '⁹')", "labelFontSize": 14, "labelPadding": 18, "labelFlush": false, "labelOverlap": false, "tickSize": -4, "title": "T", "titleFontStyle": "italic", "titleFontSize": 16, "titleY": 31, "titleBaseline": "top"}},
        "x2": {"datum": 1290},
        "y": {"datum": 1.26e-13, "type": "quantitative", "scale": {"type": "log", "domain": [1.26e-13, 1], "range": [207.7, 143.3], "nice": false}, "axis": {"orient": "left", "offset": -167.3, "values": [1e-10, 1e-5], "labelExpr": "'10' + replace(replace(replace(replace(replace(replace(replace(replace(replace(replace(replace('' + round(log(datum.value) / LN10), regexp('-', 'g'), '⁻'), regexp('0', 'g'), '⁰'), regexp('1', 'g'), '¹'), regexp('2', 'g'), '²'), regexp('3', 'g'), '³'), regexp('4', 'g'), '⁴'), regexp('5', 'g'), '⁵'), regexp('6', 'g'), '⁶'), regexp('7', 'g'), '⁷'), regexp('8', 'g'), '⁸'), regexp('9', 'g'), '⁹')", "labelFontSize": 14, "labelPadding": 23, "labelFlush": false, "labelOverlap": false, "tickSize": -4, "title": null}},
        "y2": {"datum": 1}
       }},
      {"data": {"name": "c_fit"}, "mark": {"type": "line", "color": "#000", "strokeWidth": 1.8, "strokeDash": [4, 3]},
       "encoding": {
        "x": {"field": "T", "type": "quantitative", "scale": {"type": "log", "domain": [0.83, 1290], "range": [167.3, 263], "nice": false}},
        "y": {"field": "v", "type": "quantitative", "scale": {"type": "log", "domain": [1.26e-13, 1], "range": [207.7, 143.3], "nice": false}},
        "detail": {"field": "g", "type": "nominal"}
       }},
      {"data": {"name": "c_sq"}, "mark": {"type": "square", "size": 48, "opacity": 1},
       "encoding": {
        "x": {"field": "T", "type": "quantitative", "scale": {"type": "log", "domain": [0.83, 1290], "range": [167.3, 263], "nice": false}},
        "y": {"field": "v", "type": "quantitative", "scale": {"type": "log", "domain": [1.26e-13, 1], "range": [207.7, 143.3], "nice": false}},
        "color": {"field": "T", "type": "nominal", "scale": {"domain": [1, 10, 25, 100, 250, 1000], "range": ["#b2182b", "#d6604d", "#f4a582", "#fddbc7", "#d1e5f0", "#92c5de"]}, "legend": null}
       }},
      {"data": {"name": "c_ci"}, "mark": {"type": "circle", "size": 48, "opacity": 1},
       "encoding": {
        "x": {"field": "T", "type": "quantitative", "scale": {"type": "log", "domain": [0.83, 1290], "range": [167.3, 263], "nice": false}},
        "y": {"field": "v", "type": "quantitative", "scale": {"type": "log", "domain": [1.26e-13, 1], "range": [207.7, 143.3], "nice": false}},
        "color": {"field": "T", "type": "nominal", "scale": {"domain": [1, 10, 25, 100, 250, 1000], "range": ["#b2182b", "#d6604d", "#f4a582", "#fddbc7", "#d1e5f0", "#92c5de"]}, "legend": null}
       }}
    ]},
    {"data": {"name": "c_fit"}, "mark": {"type": "point", "opacity": 0},
     "encoding": {
      "x": {"field": "T", "type": "quantitative", "scale": {"type": "log", "domain": [0.83, 1290], "range": [167.3, 263], "nice": false}, "axis": {"orient": "top", "offset": -143.3, "values": [10, 100, 1000], "labels": false, "title": null, "tickSize": -4}},
      "y": {"field": "v", "type": "quantitative", "scale": {"type": "log", "domain": [1.26e-13, 1], "range": [207.7, 143.3], "nice": false}, "axis": {"orient": "right", "offset": -9, "values": [1e-10, 1e-5], "labels": false, "title": null, "tickSize": -4}}
     }}
  ]
}
]
}
